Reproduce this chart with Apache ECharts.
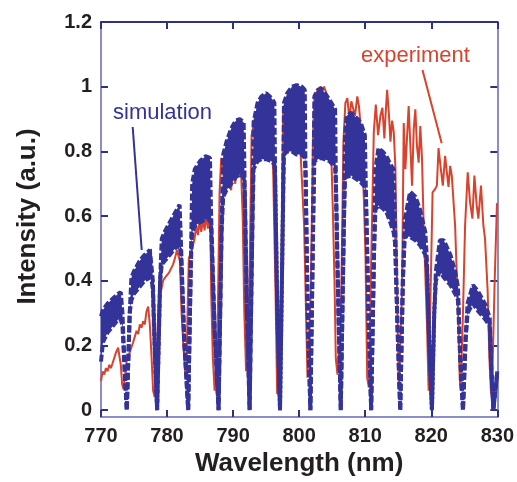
<!DOCTYPE html>
<html><head><meta charset="utf-8">
<script src="https://cdn.jsdelivr.net/npm/echarts@6/dist/echarts.min.js"></script>
<style>html,body{margin:0;padding:0;background:#fff}#c{width:517px;height:482px}</style>
</head><body><div id="c"></div>
<script>
// ---- tick labels ----
const xTicks = [770, 780, 790, 800, 810, 820, 830];
const yTicks = [0, 0.2, 0.4, 0.6, 0.8, 1, 1.2];

// ---- simulation: envelope of the fast-oscillating trace ----
const simX = [
  770.0,770.3,771.0,771.8,772.6,773.0,773.25,773.55,773.9,
  774.35,774.6,775.0,775.8,776.6,777.4,777.7,777.85,778.2,778.5,
  778.95,779.2,779.6,780.4,781.2,781.9,782.1,782.6,783.2,
  783.6,783.8,784.2,785.0,785.8,786.5,786.65,787.2,787.8,
  788.25,788.5,789.0,789.7,790.4,791.0,791.6,791.75,792.1,792.5,
  792.9,793.1,793.7,794.3,795.0,795.8,796.25,796.35,796.7,797.1,
  797.5,797.7,798.2,798.9,799.6,800.4,800.85,800.95,801.3,801.7,
  802.1,802.3,802.8,803.3,803.9,804.6,805.45,805.55,805.95,806.3,
  806.75,806.95,807.2,807.9,808.6,809.3,809.95,810.1,810.5,810.9,
  811.35,811.55,812.0,812.6,813.2,813.8,814.3,814.5,814.9,815.3,
  815.7,816.0,816.8,817.6,818.3,819.1,819.35,819.7,820.1,
  820.45,820.7,821.3,821.9,822.9,823.6,824.05,824.35,824.8,
  825.2,825.5,826.3,827.1,828.2,828.85,829.05,829.4,829.7,830.0
];
const simUpper = [
  0.29,0.31,0.33,0.345,0.36,0.365,0.30,0.14,0,
  0.30,0.41,0.43,0.46,0.48,0.495,0.50,0.40,0.15,0,
  0.40,0.53,0.55,0.58,0.61,0.635,0.52,0.22,0,
  0.45,0.70,0.745,0.77,0.785,0.78,0.62,0.25,0,
  0.55,0.79,0.83,0.87,0.895,0.90,0.89,0.70,0.30,0,
  0.55,0.89,0.95,0.97,0.98,0.965,0.95,0.74,0.30,0,
  0.55,0.95,0.98,1.0,1.005,1.0,0.99,0.76,0.30,0,
  0.55,0.97,0.99,0.995,0.98,0.96,0.93,0.72,0.30,0,
  0.55,0.85,0.91,0.92,0.905,0.89,0.85,0.68,0.30,0,
  0.50,0.745,0.81,0.80,0.786,0.76,0.745,0.60,0.25,0,
  0.40,0.59,0.675,0.66,0.62,0.55,0.46,0.20,0,
  0.30,0.43,0.525,0.525,0.48,0.43,0.38,0.18,0,
  0.22,0.33,0.387,0.367,0.326,0.285,0.15,0,0.06,0.12
];
const simLower = [
  0.15,0.21,0.24,0.26,0.28,0.28,0.26,0.14,0,
  0.30,0.34,0.36,0.38,0.40,0.41,0.40,0.37,0.15,0,
  0.40,0.45,0.46,0.48,0.50,0.51,0.48,0.22,0,
  0.45,0.55,0.57,0.58,0.59,0.59,0.57,0.25,0,
  0.55,0.66,0.68,0.70,0.72,0.73,0.72,0.68,0.30,0,
  0.55,0.745,0.77,0.776,0.776,0.77,0.76,0.72,0.30,0,
  0.55,0.79,0.80,0.80,0.79,0.79,0.78,0.74,0.30,0,
  0.55,0.77,0.775,0.78,0.775,0.77,0.75,0.70,0.30,0,
  0.55,0.72,0.725,0.725,0.715,0.705,0.69,0.66,0.30,0,
  0.50,0.62,0.633,0.625,0.613,0.58,0.55,0.52,0.25,0,
  0.40,0.54,0.535,0.525,0.51,0.48,0.44,0.20,0,
  0.30,0.40,0.43,0.41,0.387,0.36,0.34,0.18,0,
  0.22,0.30,0.33,0.306,0.28,0.26,0.15,0,0.06,0.12
];

// ---- experiment ----
const expX = [
  770.0,770.25,770.5,770.75,771.0,771.25,771.5,771.75,772.0,772.3,772.6,772.8,773.0,773.2,773.4,773.6,
  773.87,774.37,774.87,775.38,775.63,775.88,776.13,776.38,776.63,776.89,777.14,777.39,777.64,777.89,778.14,
  778.4,778.65,778.85,779.1,779.4,779.7,780.0,780.3,780.6,780.9,781.2,781.5,781.75,781.95,782.2,782.5,782.75,782.92,
  783.1,783.3,783.67,783.92,784.17,784.42,784.67,784.92,785.18,785.43,785.68,785.93,786.18,786.43,786.58,786.68,786.93,787.2,787.34,
  787.6,787.95,788.2,788.5,788.8,789.1,789.4,789.7,790.0,790.3,790.6,790.9,791.2,791.45,791.7,791.96,
  792.46,792.8,793.1,793.4,793.7,794.0,794.3,794.6,795.0,795.3,795.6,795.85,796.07,796.42,796.67,
  797.28,797.58,797.9,798.3,798.7,799.1,799.5,799.9,800.05,800.25,800.75,801.26,
  801.76,802.1,802.3,802.77,803.27,803.52,803.77,804.28,804.6,804.85,805.1,805.35,805.55,805.8,
  806.3,806.7,807.0,807.3,807.6,807.9,808.2,808.45,808.8,809.05,809.3,809.55,809.8,810.05,810.3,810.55,
  810.9,811.3,811.6,811.95,812.3,812.6,812.9,813.1,813.32,813.57,813.82,814.07,814.32,814.57,814.8,815.08,
  815.58,815.83,816.08,816.33,816.58,816.84,817.09,817.34,817.59,817.84,818.09,818.34,818.6,818.85,819.35,819.6,
  820.2,820.35,820.6,820.85,821.1,821.45,821.75,822.1,822.36,822.61,822.86,823.11,823.61,824.12,824.3,824.45,
  824.8,825.12,825.52,825.87,826.23,826.53,826.88,827.13,827.53,827.89,828.14,828.54,828.8,829.05,829.3,829.6,829.95
];
const expY = [
  0.09,0.12,0.11,0.13,0.12,0.14,0.13,0.145,0.15,0.18,0.193,0.165,0.14,0.08,0.065,0.07,
  0.15,0.18,0.21,0.245,0.235,0.265,0.255,0.275,0.265,0.305,0.32,0.265,0.17,0.06,0.04,
  0.12,0.30,0.36,0.37,0.40,0.41,0.41,0.425,0.43,0.45,0.47,0.495,0.50,0.46,0.30,0.19,0.12,0.10,
  0.30,0.47,0.49,0.51,0.53,0.572,0.541,0.582,0.551,0.592,0.556,0.602,0.561,0.602,0.541,0.367,0.163,0.06,0.06,
  0.175,0.674,0.78,0.74,0.69,0.76,0.70,0.68,0.75,0.70,0.74,0.72,0.74,0.60,0.30,0.12,
  0.37,0.85,0.88,0.92,0.90,0.94,0.92,0.95,0.965,0.94,0.90,0.82,0.735,0.367,0.05,
  0.37,0.93,0.95,0.97,0.96,0.99,0.97,0.99,0.95,0.78,0.57,0.10,
  0.37,0.85,0.96,0.99,1.0,0.985,1.0,0.97,0.92,0.80,0.62,0.40,0.16,0.11,
  0.25,0.83,0.95,0.965,0.90,0.955,0.96,0.91,0.97,0.94,0.88,0.78,0.65,0.47,0.10,0.07,
  0.45,0.86,0.945,0.85,0.91,0.935,0.84,0.92,0.99,0.92,0.83,0.895,0.86,0.75,0.40,0.07,
  0.367,0.888,0.745,0.745,0.94,0.816,0.694,0.868,0.93,0.816,0.765,0.878,0.776,0.571,0.265,0.06,
  0.673,0.673,0.684,0.694,0.81,0.745,0.694,0.786,0.735,0.69,0.755,0.725,0.571,0.265,0.10,0.06,
  0.30,0.571,0.735,0.643,0.592,0.725,0.633,0.592,0.694,0.571,0.53,0.367,0.16,0.05,0.15,0.40,0.64
];

const BLUE = '#333399';
const RED = '#d8432e';
const AXIS_LIGHT = '#8c8cc8';
const AXIS_DARK = '#2e2e8c';
const FONT = '"Liberation Sans", Arial, Helvetica, sans-serif';

const pairs = (xs, ys) => xs.map((x, i) => [x, ys[i]]);

const chart = echarts.init(document.getElementById('c'), null, {renderer: 'canvas'});

const tickStyle = {show: true, inside: true, length: 7, lineStyle: {color: AXIS_DARK, width: 2}};

chart.setOption({
  animation: false,
  backgroundColor: '#ffffff',
  grid: {left: 101, right: 18, top: 22, bottom: 62},
  xAxis: [{
    type: 'value', min: xTicks[0], max: xTicks[xTicks.length - 1], interval: 10,
    position: 'bottom',
    axisLine: {show: true, onZero: false, lineStyle: {color: AXIS_LIGHT, width: 2}},
    axisTick: tickStyle,
    splitLine: {show: false},
    axisLabel: {margin: 9, color: '#231f20', fontFamily: FONT, fontWeight: 'bold', fontSize: 20},
    name: 'Wavelength (nm)', nameLocation: 'middle', nameGap: 31,
    nameTextStyle: {color: '#231f20', fontFamily: FONT, fontWeight: 'bold', fontSize: 26}
  }, {
    type: 'value', min: xTicks[0], max: xTicks[xTicks.length - 1], interval: 10,
    position: 'top',
    axisLine: {show: true, onZero: false, lineStyle: {color: AXIS_DARK, width: 2}},
    axisTick: tickStyle,
    splitLine: {show: false},
    axisLabel: {show: false}
  }],
  yAxis: [{
    type: 'value', min: -0.0215, max: 1.2,
    position: 'left',
    axisLine: {show: true, onZero: false, lineStyle: {color: AXIS_LIGHT, width: 2}},
    axisTick: Object.assign({customValues: yTicks}, tickStyle),
    splitLine: {show: false},
    axisLabel: {customValues: yTicks, margin: 9, color: '#231f20', fontFamily: FONT, fontWeight: 'bold', fontSize: 20}
  }, {
    type: 'value', min: -0.0215, max: 1.2,
    position: 'right',
    axisLine: {show: true, onZero: false, lineStyle: {color: AXIS_LIGHT, width: 2}},
    axisTick: Object.assign({customValues: yTicks}, tickStyle),
    splitLine: {show: false},
    axisLabel: {show: false}
  }],
  graphic: [
    {type: 'text', x: 28, y: 216.5, rotation: Math.PI / 2,
     style: {text: 'Intensity (a.u.)', fill: '#231f20', font: 'bold 26px ' + FONT, align: 'center', verticalAlign: 'middle'}},
    {type: 'text', x: 113, y: 113,
     style: {text: 'simulation', fill: BLUE, font: '22px ' + FONT, align: 'left', verticalAlign: 'middle'}, z: 10},
    {type: 'line', shape: {x1: 132.7, y1: 127, x2: 141.7, y2: 250}, style: {stroke: BLUE, lineWidth: 2}, z: 10},
    {type: 'text', x: 361, y: 56,
     style: {text: 'experiment', fill: RED, font: '22px ' + FONT, align: 'left', verticalAlign: 'middle'}, z: 10},
    {type: 'line', shape: {x1: 422.5, y1: 70, x2: 441.7, y2: 143.3}, style: {stroke: RED, lineWidth: 2}, z: 10}
  ],
  series: [
    {
      name: 'experiment', type: 'line', data: pairs(expX, expY),
      showSymbol: false, symbol: 'none', z: 2,
      lineStyle: {color: RED, width: 2}
    },
    {
      name: 'simulation band', type: 'custom', coordinateSystem: 'cartesian2d',
      data: [[simX[0], simUpper[0]]], z: 3, silent: true,
      renderItem: function (params, api) {
        const pts = [];
        for (let i = 0; i < simX.length; i++) pts.push(api.coord([simX[i], simUpper[i]]));
        for (let i = simX.length - 1; i >= 0; i--) pts.push(api.coord([simX[i], simLower[i]]));
        return {type: 'polygon', shape: {points: pts}, style: {fill: BLUE}};
      }
    },
    {
      name: 'simulation upper', type: 'line', data: pairs(simX, simUpper),
      showSymbol: false, symbol: 'none', z: 4,
      lineStyle: {color: BLUE, width: 4, type: [7, 2.5]}
    },
    {
      name: 'simulation lower', type: 'line', data: pairs(simX, simLower),
      showSymbol: false, symbol: 'none', z: 4,
      lineStyle: {color: BLUE, width: 4, type: [7, 2.5]}
    }
  ]
});
</script>
</body></html>
